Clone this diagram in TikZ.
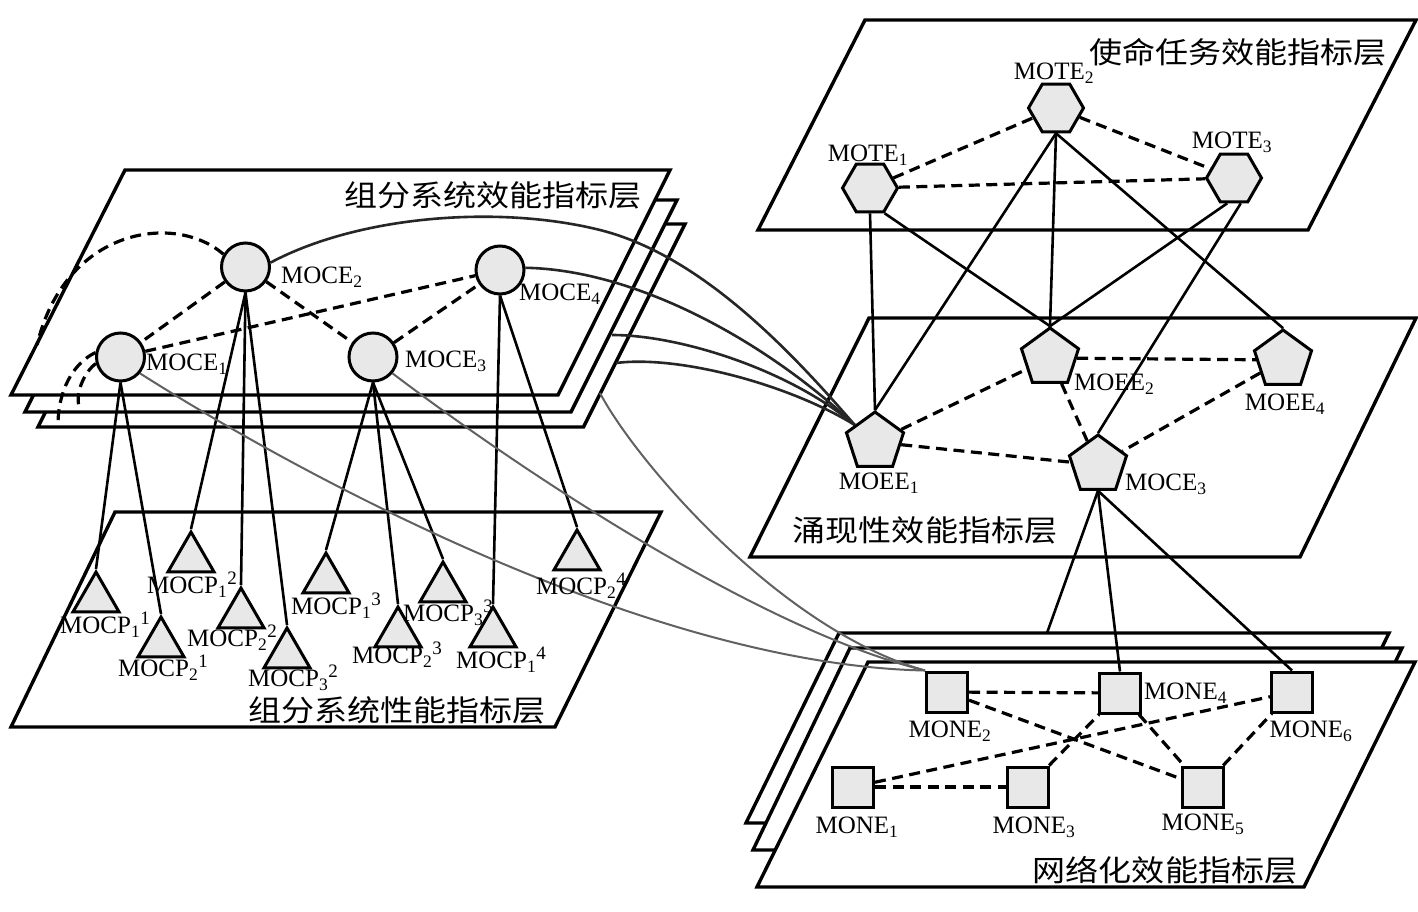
\documentclass[tikz,border=0pt]{standalone}
\usepackage{fontspec}
\setmainfont{Liberation Serif}
\newfontfamily\cjk[FakeStretch=1.12]{Noto Sans CJK SC}
\usetikzlibrary{shapes.geometric}
\pgfdeclarelayer{planes}
\pgfdeclarelayer{edges}
\pgfsetlayers{planes,edges,main}
\newcommand{\sub}[1]{\textsubscript{#1}}
\newcommand{\sbp}[2]{\textsubscript{#1}\raisebox{9pt}{\fontsize{19}{20}\selectfont #2}}
\begin{document}
\begin{tikzpicture}[x=1pt,y=-1pt,
  plane/.style={draw=black, line width=3.4pt, fill=white, line join=miter},
  nd/.style={draw=black, line width=3pt, fill=black!9, inner sep=0pt},
  circ/.style={nd, circle, minimum size=48pt},
  hexa/.style={nd, regular polygon, regular polygon sides=6, minimum size=55pt},
  penta/.style={nd, regular polygon, regular polygon sides=5, minimum size=60pt},
  tri/.style={nd, regular polygon, regular polygon sides=3, minimum size=53pt},
  sq/.style={nd, rectangle, minimum width=41pt, minimum height=40pt},
  lbl/.style={inner sep=0pt, font=\fontsize{25}{28}\selectfont},
  ttl/.style={inner sep=0pt, font=\cjk\fontsize{29.5}{32}\selectfont},
  sol/.style={line width=2.6pt, draw=black},
  dsh/.style={line width=3.2pt, dash pattern=on 11pt off 6.5pt},
  gline/.style={line width=2pt, draw=black!62},
  curv/.style={line width=2.6pt, draw=black!85},
]
\useasboundingbox (0,0) rectangle (1418,912);

% ---------- planes ----------
\begin{pgfonlayer}{planes}
% left upper stack
\draw[plane] (139.5,224) -- (685,224) -- (583.5,427) -- (38,427) -- cycle;
\draw[plane] (131,200) -- (677,200) -- (571,412) -- (25,412) -- cycle;
\draw[plane] (125,170) -- (670,170) -- (558,395) -- (11,395) -- cycle;
% left lower plane
\draw[plane] (115,512) -- (661,512) -- (555,727) -- (11,727) -- cycle;
% right top plane
\draw[plane] (865,20) -- (1416,20) -- (1308,230) -- (758,230) -- cycle;
% right middle plane
\draw[plane] (869,318) -- (1416,318) -- (1300,557) -- (750,557) -- cycle;
% right lower stack
\draw[plane] (839,633) -- (1389,633) -- (1296,823) -- (746,823) -- cycle;
\draw[plane] (850,648) -- (1402,648) -- (1305,850) -- (753,850) -- cycle;
\draw[plane] (868,662) -- (1415,662) -- (1304,887) -- (757,887) -- cycle;
\end{pgfonlayer}

% ---------- titles ----------
\node[ttl] (T1) at (493,195) {组分系统效能指标层};
\node[ttl] (T2) at (397,710) {组分系统性能指标层};
\node[ttl] (T3) at (1238,52) {使命任务效能指标层};
\node[ttl] (T4) at (925,530) {涌现性效能指标层};
\node[ttl] (T5) at (1165,870) {网络化效能指标层};

% ---------- nodes ----------
\node[circ] (c1) at (120.5,357) {};
\node[circ] (c2) at (245.5,267) {};
\node[circ] (c3) at (373,357) {};
\node[circ] (c4) at (500,270) {};

\node[tri] (p11) at (96,598.5) {};
\node[tri] (p12) at (191,558.5) {};
\node[tri] (p21) at (161,643.5) {};
\node[tri] (p22) at (241,614.5) {};
\node[tri] (p32) at (287,654.5) {};
\node[tri] (p13) at (326,579.5) {};
\node[tri] (p23) at (398,633.5) {};
\node[tri] (p33) at (443,588.5) {};
\node[tri] (p14) at (493,633.5) {};
\node[tri] (p24) at (577,556.5) {};

\node[hexa] (t1) at (870,188) {};
\node[hexa] (t2) at (1056,108) {};
\node[hexa] (t3) at (1234,178) {};

\node[penta] (e1) at (875,442) {};
\node[penta] (e2) at (1050,358) {};
\node[penta] (e4) at (1283,360) {};
\node[penta] (e3) at (1098,465) {};

\node[sq] (n1) at (853,787) {};
\node[sq] (n2) at (947,692) {};
\node[sq] (n3) at (1028,787) {};
\node[sq] (n4) at (1120,693) {};
\node[sq] (n5) at (1203,787) {};
\node[sq] (n6) at (1292,692) {};

% ---------- labels ----------
\node[lbl, anchor=west] (lc1) at (146,364) {MOCE\sub{1}};
\node[lbl, anchor=west] (lc2) at (281,277) {MOCE\sub{2}};
\node[lbl, anchor=west] (lc3) at (405,361) {MOCE\sub{3}};
\node[lbl, anchor=west] (lc4) at (519,294) {MOCE\sub{4}};

\node[lbl] (lp11) at (105,625) {MOCP\sbp{1}{1}};
\node[lbl] (lp12) at (192,585) {MOCP\sbp{1}{2}};
\node[lbl] (lp21) at (163,668) {MOCP\sbp{2}{1}};
\node[lbl] (lp22) at (232,638) {MOCP\sbp{2}{2}};
\node[lbl] (lp32) at (293,678) {MOCP\sbp{3}{2}};
\node[lbl] (lp13) at (336,606) {MOCP\sbp{1}{3}};
\node[lbl] (lp23) at (397,655) {MOCP\sbp{2}{3}};
\node[lbl] (lp33) at (448,613) {MOCP\sbp{3}{3}};
\node[lbl] (lp14) at (501,660) {MOCP\sbp{1}{4}};
\node[lbl] (lp24) at (581,586) {MOCP\sbp{2}{4}};

\node[lbl] (lt1) at (868,155) {MOTE\sub{1}};
\node[lbl] (lt2) at (1054,73) {MOTE\sub{2}};
\node[lbl] (lt3) at (1232,142) {MOTE\sub{3}};

\node[lbl] (le1) at (879,483) {MOEE\sub{1}};
\node[lbl, anchor=west] (le2) at (1074,384) {MOEE\sub{2}};
\node[lbl] (le4) at (1285,404) {MOEE\sub{4}};
\node[lbl, anchor=west] (le3) at (1125,484) {MOCE\sub{3}};

\node[lbl] (ln1) at (857,827) {MONE\sub{1}};
\node[lbl] (ln2) at (950,731) {MONE\sub{2}};
\node[lbl] (ln3) at (1034,827) {MONE\sub{3}};
\node[lbl, anchor=west] (ln4) at (1144,693) {MONE\sub{4}};
\node[lbl] (ln5) at (1203,824) {MONE\sub{5}};
\node[lbl] (ln6) at (1311,731) {MONE\sub{6}};

% free ends
\coordinate (b2a) at (612,335);
\coordinate (b3a) at (616,363);
\coordinate (b3b) at (600,393);
\coordinate (s1) at (1047,633);
\coordinate (d1) at (37,345);
\coordinate (d2) at (58,425);
\coordinate (d3) at (80,410);

% ---------- connectors ----------
\begin{pgfonlayer}{edges}
% left upper layer, dashed
\draw[dsh] (c2) -- (c1);
\draw[dsh] (c2) -- (c3);
\draw[dsh] (c1) -- (c4);
\draw[dsh] (c3) -- (c4);
\draw[dsh] (c2.150) .. controls (175,212) and (65,228) .. (d1);
\draw[dsh] (c1.170) .. controls (72,364) and (58,392) .. (d2);
\draw[dsh] (c1.195) .. controls (84,372) and (74,395) .. (d3);
% circles to triangles
\draw[sol] (c1.south) -- (p11.90);
\draw[sol] (c1.south) -- (p21.90);
\draw[sol] (c2.south) -- (p12.90);
\draw[sol] (c2.south) -- (p22.90);
\draw[sol] (c2.south) -- (p32.90);
\draw[sol] (c3.south) -- (p13.90);
\draw[sol] (c3.south) -- (p23.90);
\draw[sol] (c3.south) -- (p33.90);
\draw[sol] (c4.south) -- (p14.90);
\draw[sol] (c4.south) -- (p24.90);
% curves to MOEE1
\draw[curv] (c2.10) .. controls (360,215) and (500,205) .. (600,230)
            .. controls (700,255) and (790,350) .. (e1.140);
\draw[curv] (c4.5) .. controls (640,270) and (770,345) .. (e1.140);
\draw[curv] (b2a) .. controls (680,335) and (790,370) .. (e1.140);
\draw[curv] (b3a) .. controls (680,355) and (790,385) .. (e1.140);
% curves to MONE2
\draw[gline] (c1.-40) .. controls (300,475) and (650,665) .. (n2.north west);
\draw[gline] (c3.-40) .. controls (520,470) and (760,630) .. (n2.north west);
\draw[gline] (b3b) .. controls (635,460) and (780,630) .. (n2.north west);
% top right layer
\draw[dsh] (t1) -- (t2);
\draw[dsh] (t2) -- (t3);
\draw[dsh] (t1) -- (t3);
% middle layer
\draw[dsh] (e1) -- (e2);
\draw[dsh] (e1) -- (e3);
\draw[dsh] (e2) -- (e4);
\draw[dsh] (e2) -- (e3);
\draw[dsh] (e4) -- (e3);
% top to middle
\draw[sol] (t1.270) -- (e1.90);
\draw[sol] (t1.300) -- (e2.90);
\draw[sol] (t2.south) -- (e1.90);
\draw[sol] (t2.south) -- (e2.90);
\draw[sol] (t2.south) -- (e4.90);
\draw[sol] (t3.255) -- (e2.90);
\draw[sol] (t3.285) -- (e3.90);
% middle to bottom
\draw[sol] (e3.south) -- (s1);
\draw[sol] (e3.south) -- (n4.north);
\draw[sol] (e3.south) -- (n6.north);
% bottom layer
\draw[dsh] (n2) -- (n4);
\draw[dsh] (n2) -- (n5);
\draw[dsh] (n1) -- (n6);
\draw[dsh] (n1) -- (n3);
\draw[dsh] (n3) -- (n4);
\draw[dsh] (n4) -- (n5);
\draw[dsh] (n5) -- (n6);
\end{pgfonlayer}
\end{tikzpicture}
\end{document}
